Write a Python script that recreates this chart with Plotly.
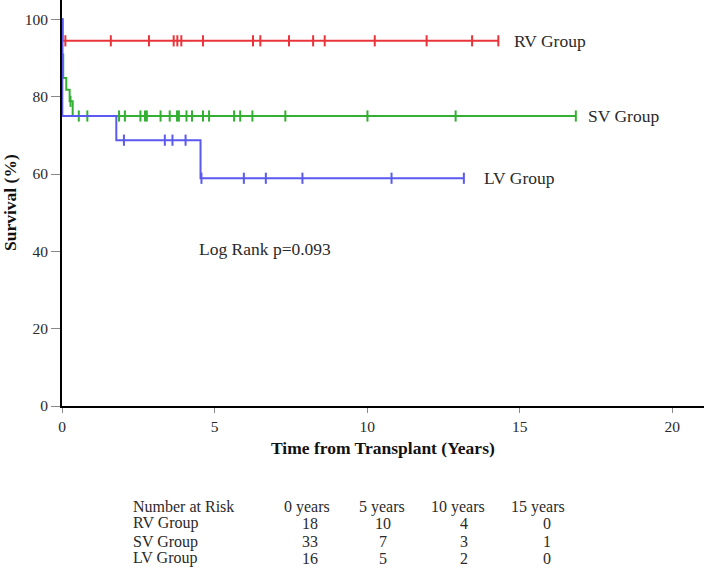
import numpy as np
import plotly.graph_objects as go

# ---- data ----
groups = ["RV Group", "SV Group", "LV Group"]

rv_step_times = [0.0, 0.02]
rv_step_surv = [100.0, 94.44]
rv_censor_times = [0.11, 1.60, 2.85, 3.66, 3.78, 3.91, 4.62, 6.26, 6.50, 7.44,
                   8.23, 8.61, 10.25, 11.95, 13.44, 14.30]

sv_step_times = [0.0, 0.01, 0.04, 0.14, 0.25, 0.35]
sv_step_surv = [100.0, 90.9, 84.8, 81.8, 78.8, 75.0]
sv_censor_times = [0.28, 0.55, 0.83, 1.87, 2.06, 2.57, 2.72, 2.78, 3.23, 3.53,
                   3.77, 3.83, 4.08, 4.26, 4.62, 4.82, 5.64, 5.84, 6.24, 7.32,
                   10.01, 12.90, 16.84]

lv_step_times = [0.0, 0.01, 1.78, 4.54]
lv_step_surv = [100.0, 75.0, 68.75, 58.9]
lv_censor_times = [2.03, 3.37, 3.62, 4.05, 4.57, 5.96, 6.68, 7.88, 10.80, 13.17]

colors = ["#e8343a", "#33b033", "#5a5af0"]

risk_header = ["0 years", "5 years", "10 years", "15 years"]
risk_rv = [18, 10, 4, 0]
risk_sv = [33, 7, 3, 1]
risk_lv = [16, 5, 2, 0]
log_rank_text = "Log Rank p=0.093"

FONT = "Liberation Serif"
TXT = "#2a2a2a"

fig = go.Figure()

series = [
    (rv_step_times, rv_step_surv, rv_censor_times),
    (sv_step_times, sv_step_surv, sv_censor_times),
    (lv_step_times, lv_step_surv, lv_censor_times),
]

for (st, ss, ct), col, name in zip(series, colors, groups):
    st = np.array(st); ss = np.array(ss); ct = np.array(ct)
    end_t = max(ct.max(), st.max())
    xs = np.append(st, end_t)
    ys = np.append(ss, ss[-1])
    fig.add_trace(go.Scatter(x=xs, y=ys, mode="lines", line=dict(color=col, width=2, shape="hv"),
                             name=name, showlegend=False, hoverinfo="skip"))
    idx = np.searchsorted(st, ct, side="right") - 1
    cy = ss[idx]
    fig.add_trace(go.Scatter(x=ct, y=cy, mode="markers",
                             marker=dict(symbol="line-ns-open", size=8, color=col,
                                         line=dict(color=col, width=2)),
                             showlegend=False, hoverinfo="skip"))

W, H = 708, 569
ml, mr, mt, mb = 62, 4, 0, 163
pw, ph = W - ml - mr, H - mt - mb


def px(xpix):
    return (xpix - ml) / pw


def py(ypix):
    return (mt + ph - ypix) / ph


LBL = 17.5
ann = []
# curve labels (data coords)
label_pos = [(14.75, rv_step_surv[-1]), (17.17, sv_step_surv[-1]), (13.75, lv_step_surv[-1])]
for name, (lx, ly) in zip(groups, label_pos):
    ann.append(dict(x=lx, y=ly, xref="x", yref="y", text=name, showarrow=False,
                    xanchor="left", yanchor="middle", font=dict(family=FONT, size=LBL, color=TXT)))
ann.append(dict(x=4.41, y=40.5, xref="x", yref="y", text=log_rank_text, showarrow=False,
                xanchor="left", yanchor="middle", font=dict(family=FONT, size=LBL, color=TXT)))

# axis titles
ann.append(dict(x=0.5, y=py(448), xref="paper", yref="paper", text="<b>Time from Transplant (Years)</b>",
                showarrow=False, xanchor="center", yanchor="middle", font=dict(family=FONT, size=17.5, color="#111")))
ann.append(dict(x=px(10), y=py(203), xref="paper", yref="paper", text="<b>Survival (%)</b>",
                showarrow=False, xanchor="center", yanchor="middle", textangle=-90,
                font=dict(family=FONT, size=17.5, color="#111")))

# number at risk table
row_y = [506.7, 523.3, 541.7, 558.3]
head_x = [307.3, 381.7, 458.3, 538.3]
val_x = [310, 383, 464, 547]
tf = dict(family=FONT, size=16, color=TXT)
ann.append(dict(x=px(130.7), y=py(row_y[0]), xref="paper", yref="paper", text="Number at Risk",
                showarrow=False, xanchor="left", yanchor="middle", font=tf))
for hx, h in zip(head_x, risk_header):
    ann.append(dict(x=px(hx), y=py(row_y[0]), xref="paper", yref="paper", text=h,
                    showarrow=False, xanchor="center", yanchor="middle", font=tf))
for r, (name, vals) in enumerate(zip(groups, [risk_rv, risk_sv, risk_lv])):
    yy = py(row_y[r + 1])
    ann.append(dict(x=px(130.7), y=yy, xref="paper", yref="paper", text=name,
                    showarrow=False, xanchor="left", yanchor="middle", font=tf))
    for vx, v in zip(val_x, vals):
        ann.append(dict(x=px(vx), y=yy, xref="paper", yref="paper", text=str(v),
                        showarrow=False, xanchor="center", yanchor="middle", font=tf))

fig.update_layout(
    width=W, height=H,
    margin=dict(l=ml, r=mr, t=mt, b=mb, pad=0),
    paper_bgcolor="white", plot_bgcolor="white",
    annotations=ann,
    xaxis=dict(range=[0, 21.04], tickvals=[0, 5, 10, 15, 20], showgrid=False, zeroline=False,
               showline=True, linecolor="black", linewidth=2, ticks="outside", ticklen=5,
               tickwidth=1, tickcolor="#888", tickfont=dict(family=FONT, size=15.5, color=TXT)),
    yaxis=dict(range=[0, 105], tickvals=[0, 20, 40, 60, 80, 100], showgrid=False, zeroline=False,
               showline=True, linecolor="black", linewidth=2, ticks="outside", ticklen=9,
               tickwidth=1, tickcolor="#888", tickfont=dict(family=FONT, size=15.5, color=TXT)),
)

fig.write_html("out.html", config={"displayModeBar": False},
               post_script="document.body.style.margin='0';document.body.style.overflow='hidden';")
